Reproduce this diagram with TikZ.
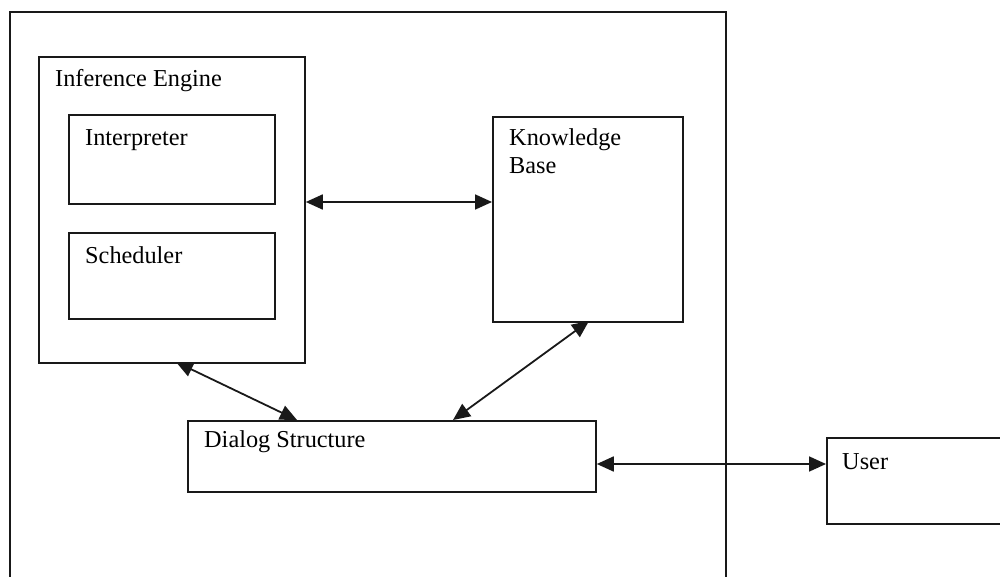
\documentclass[tikz,border=0pt]{standalone}
\usepackage{fontspec}
\setmainfont{Liberation Serif}
\usetikzlibrary{arrows.meta}
\begin{document}
\begin{tikzpicture}[x=1pt,y=-1pt,
  box/.style={draw=black!90, line width=1.8pt, fill=none, inner sep=0pt, anchor=north west},
  lbl/.style={anchor=base west, inner sep=0pt, font=\fontsize{24.3}{28}\selectfont, text=black},
  link/.style={line width=1.8pt, draw=black!90, {Triangle[length=17pt,width=15pt]}-{Triangle[length=17pt,width=15pt]}}]
\useasboundingbox (0,0) rectangle (1000,577);
\clip (0,0) rectangle (1000,577);
% outer system box
\node[box, minimum width=716pt, minimum height=568pt] (sys) at (9,11) {};
% inference engine
\node[box, minimum width=266pt, minimum height=306pt] (ie) at (38,56) {};
\node[box, minimum width=206pt, minimum height=89pt] (interp) at (68,114) {};
\node[box, minimum width=206pt, minimum height=86pt] (sched) at (68,232) {};
% knowledge base
\node[box, minimum width=190pt, minimum height=205pt] (kb) at (492,116) {};
% dialog structure
\node[box, minimum width=408pt, minimum height=71pt] (ds) at (187,420) {};
% user
\node[box, minimum width=200pt, minimum height=86pt] (user) at (826,437) {};
% labels
\node[lbl] (tie) at (55,87) {Inference Engine};
\node[lbl] (tint) at (85,146) {Interpreter};
\node[lbl] (tsch) at (85,263) {Scheduler};
\node[lbl] (tkb1) at (509,146) {Knowledge};
\node[lbl] (tkb2) at (509,174) {Base};
\node[lbl] (tds) at (204,447) {Dialog Structure};
\node[lbl] (tus) at (842,469) {User};
% connectors
\coordinate (ieR) at (ie.east |- 0,202);
\coordinate (kbL) at (kb.west |- 0,202);
\draw[link] (ieR) -- (kbL);
\coordinate (ieB) at (176,362);
\coordinate (dsT1) at (297,420);
\draw[link] (ieB) -- (dsT1);
\coordinate (kbB) at (589,321);
\coordinate (dsT2) at (453,420);
\draw[link] (kbB) -- (dsT2);
\coordinate (dsR) at (ds.east |- 0,464);
\coordinate (usL) at (user.west |- 0,464);
\draw[link] (dsR) -- (usL);
\end{tikzpicture}
\end{document}
